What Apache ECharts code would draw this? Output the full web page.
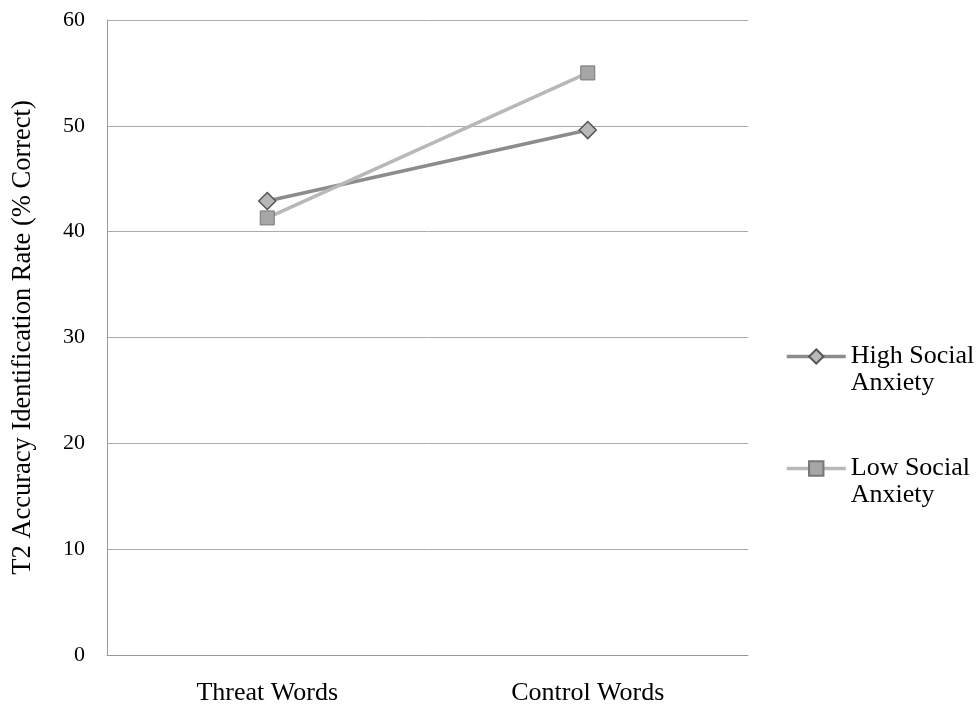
<!DOCTYPE html>
<html>
<head>
<meta charset="utf-8">
<script src="https://cdn.jsdelivr.net/npm/echarts@6/dist/echarts.min.js"></script>
<style>
  html, body { margin: 0; padding: 0; background: #fff; }
  #chart { width: 978px; height: 711px; }
</style>
</head>
<body>
<div id="chart"></div>
<script>
// categories and values
const categories = ["Threat Words", "Control Words"];
const highSocialAnxiety = [42.9, 49.6];
const lowSocialAnxiety = [41.3, 55.0];

const FONT = "Liberation Serif";

const chart = echarts.init(document.getElementById("chart"));

const options = {
    animation: false,
    backgroundColor: "#fff",
    textStyle: { fontFamily: FONT, color: "#000" },
    grid: {
        left: 107,
        right: 230,
        top: 20,
        bottom: 56,
    },
    legend: {
        orient: "vertical",
        left: 780,
        top: 311,
        itemWidth: 59,
        itemHeight: 18,
        itemGap: 31,
        lineStyle: { width: 3.5 },
        textStyle: {
            fontFamily: FONT,
            fontSize: 26,
            color: "#000",
            lineHeight: 27,
        },
        // empty first line keeps the icon level with "High Social"
        formatter: (name) => "\n" + name.replace(" Anxiety", "\nAnxiety"),
        data: ["High Social Anxiety", "Low Social Anxiety"],
    },
    xAxis: {
        type: "category",
        data: categories,
        axisLine: { lineStyle: { color: "#999", width: 1 } },
        axisTick: { show: false },
        axisLabel: {
            fontFamily: FONT,
            fontSize: 26,
            color: "#000",
            margin: 25,
        },
    },
    yAxis: {
        type: "value",
        min: 0,
        max: 60,
        interval: 10,
        name: "T2 Accuracy Identification Rate (% Correct)",
        nameLocation: "middle",
        nameGap: 70,
        nameTextStyle: { fontFamily: FONT, fontSize: 26.5, color: "#000" },
        axisLine: { show: true, lineStyle: { color: "#999", width: 1 } },
        axisTick: { show: false },
        axisLabel: {
            fontFamily: FONT,
            fontSize: 22,
            color: "#000",
            margin: 22,
        },
        splitLine: { lineStyle: { color: "#aaa", width: 1 } },
    },
    series: [
        {
            name: "High Social Anxiety",
            type: "line",
            data: highSocialAnxiety,
            symbol: "diamond",
            symbolSize: 17,
            lineStyle: { color: "#8c8c8c", width: 3.5 },
            itemStyle: { color: "#b8b8b8", borderColor: "#555", borderWidth: 1.5 },
        },
        {
            name: "Low Social Anxiety",
            type: "line",
            data: lowSocialAnxiety,
            symbol: "rect",
            symbolSize: 14,
            lineStyle: { color: "#b8b8b8", width: 3.5 },
            itemStyle: { color: "#a6a6a6", borderColor: "#777", borderWidth: 1 },
        },
    ],
};

chart.setOption(options);
</script>
</body>
</html>
